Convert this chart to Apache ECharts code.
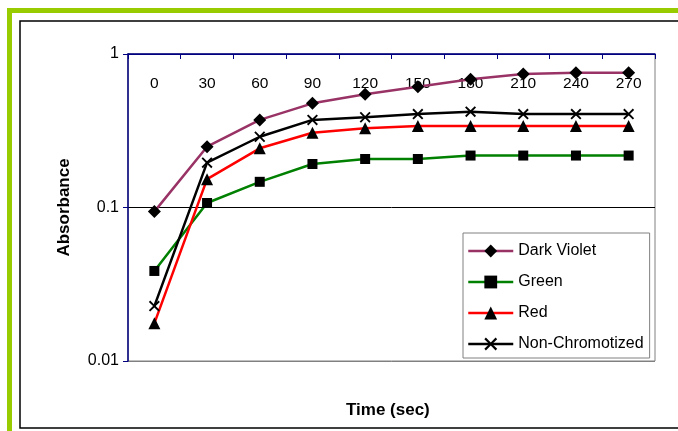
<!DOCTYPE html>
<html><head><meta charset="utf-8">
<script src="https://cdn.jsdelivr.net/npm/echarts@6/dist/echarts.min.js"></script>
<style>html,body{margin:0;padding:0;background:#fff}#c{width:678px;height:431px}</style>
</head><body><div id="c"></div>
<script>
const categories = ['0','30','60','90','120','150','180','210','240','270'];
const darkViolet = [0.094,0.249,0.372,0.477,0.546,0.612,0.684,0.741,0.755,0.755];
const green = [0.0386,0.107,0.147,0.192,0.207,0.207,0.218,0.218,0.218,0.218];
const red = [0.0176,0.153,0.243,0.307,0.328,0.340,0.340,0.340,0.340,0.340];
const nonChromotized = [0.0228,0.196,0.289,0.372,0.387,0.406,0.421,0.406,0.406,0.406];
const yTicks = {1:'1',0.1:'0.1',0.01:'0.01'};

const FONT = '"Liberation Sans", Arial, sans-serif';
const xPath = 'path://M0,1.2L1.2,0L5,3.8L8.8,0L10,1.2L6.2,5L10,8.8L8.8,10L5,6.2L1.2,10L0,8.8L3.8,5Z';

function mk(name, data, color, symbol, size) {
  return {
    name, type: 'line', data, symbol, symbolSize: size, showSymbol: true,
    lineStyle: {color, width: 2.5},
    itemStyle: {color: '#000'},
    emphasis: {disabled: true}, animation: false
  };
}

const chart = echarts.init(document.getElementById('c'), null, {renderer: 'canvas'});
chart.setOption({
  animation: false,
  textStyle: {fontFamily: FONT},
  grid: {left: 128, top: 54, right: 23, bottom: 70, show: true, borderColor: '#808080', borderWidth: 1, backgroundColor: 'transparent'},
  graphic: [
    {type: 'rect', shape: {x: 7, y: 8, width: 680, height: 5}, style: {fill: '#99CC00'}, z: 1},
    {type: 'rect', shape: {x: 7, y: 8, width: 5, height: 430}, style: {fill: '#99CC00'}, z: 1},
    {type: 'rect', shape: {x: 20, y: 21, width: 680, height: 407}, style: {fill: 'none', stroke: '#000', lineWidth: 1.5}, z: 1},
    {type: 'text', left: 346, top: 402, style: {text: 'Time (sec)', font: 'bold 17px ' + FONT, fill: '#000'}, z: 5}
  ],
  legend: {
    orient: 'vertical', left: 463, top: 233,
    padding: [10, 6, 6, 4], itemGap: 15, itemWidth: 45, itemHeight: 16,
    lineStyle: {width: 2.5},
    backgroundColor: '#fff', borderColor: '#808080', borderWidth: 1,
    textStyle: {fontSize: 16, color: '#000', fontFamily: FONT},
    data: ['Dark Violet','Green','Red','Non-Chromotized']
  },
  xAxis: {
    type: 'category', data: categories, position: 'top', boundaryGap: true,
    axisLine: {show: true, lineStyle: {color: '#000080', width: 1.5}},
    axisTick: {show: true, inside: true, length: 5, lineStyle: {color: '#000080'}},
    axisLabel: {inside: true, margin: 22, fontSize: 15.5, color: '#000', fontFamily: FONT},
    splitLine: {show: false}
  },
  yAxis: {
    type: 'log', logBase: 10, min: 0.01, max: 1,
    name: 'Absorbance', nameLocation: 'middle', nameGap: 55, nameRotate: 90,
    nameTextStyle: {fontSize: 17, fontWeight: 'bold', color: '#000', fontFamily: FONT},
    axisLine: {show: true, lineStyle: {color: '#000080', width: 1.5}},
    axisTick: {show: true, inside: false, length: 5, lineStyle: {color: '#000080'}},
    axisLabel: {fontSize: 16, color: '#000', margin: 9, fontFamily: FONT,
      formatter: v => yTicks[+v.toPrecision(3)] !== undefined ? yTicks[+v.toPrecision(3)] : ''},
    splitLine: {show: true, lineStyle: {color: ['#808080','#000000','#000080'], width: 1}},
    minorTick: {show: false}
  },
  series: [
    mk('Dark Violet', darkViolet, '#993366', 'diamond', 13),
    mk('Green', green, '#008000', 'rect', 10),
    mk('Red', red, '#FF0000', 'triangle', 12),
    mk('Non-Chromotized', nonChromotized, '#000000', xPath, 11)
  ]
});
</script></body></html>
